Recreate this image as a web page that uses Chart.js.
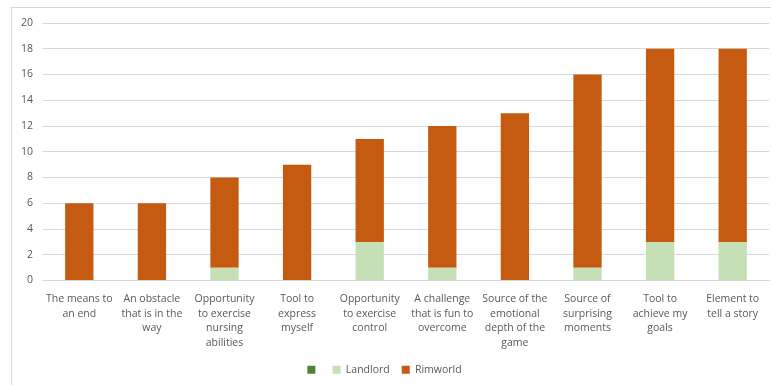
<!DOCTYPE html>
<html>
<head>
<meta charset="utf-8">
<script src="https://cdn.jsdelivr.net/npm/chart.js@4/dist/chart.umd.min.js"></script>
<style>
  body { margin: 0; background: #fff; }
  #wrap { position: relative; width: 771px; height: 385px; overflow: hidden; }
  #frame { position: absolute; left: 11px; top: 7px; width: 800px; height: 400px;
           border-left: 1px solid #d9d9d9; border-top: 1px solid #d9d9d9; }
  canvas { position: absolute; left: 0; top: 0; }
</style>
</head>
<body>
<div id="wrap">
  <div id="frame"></div>
  <canvas id="chart" width="771" height="385"></canvas>
</div>
<script>
const categories = [
  ['The means to', 'an end'],
  ['An obstacle', 'that is in the', 'way'],
  ['Opportunity', 'to exercise', 'nursing', 'abilities'],
  ['Tool to', 'express', 'myself'],
  ['Opportunity', 'to exercise', 'control'],
  ['A challenge', 'that is fun to', 'overcome'],
  ['Source of the', 'emotional', 'depth of the', 'game'],
  ['Source of', 'surprising', 'moments'],
  ['Tool to', 'achieve my', 'goals'],
  ['Element to', 'tell a story']
];
const unnamedSeries = [0, 0, 0, 0, 0, 0, 0, 0, 0, 0];
const landlord = [0, 0, 1, 0, 3, 1, 0, 1, 3, 3];
const rimworld = [6, 6, 7, 9, 8, 11, 13, 15, 15, 15];
const yTicks = [0, 2, 4, 6, 8, 10, 12, 14, 16, 18, 20];

const ctx = document.getElementById('chart').getContext('2d');
const font = { family: '"Open Sans", "Noto Sans", sans-serif', size: 10.5 };
const xFont = { family: '"Open Sans", "Noto Sans", sans-serif', size: 10.5, lineHeight: 1.4 };

new Chart(ctx, {
  type: 'bar',
  data: {
    labels: categories,
    datasets: [
      { label: '', data: unnamedSeries, backgroundColor: '#548235' },
      { label: 'Landlord', data: landlord, backgroundColor: '#c5e0b4' },
      { label: 'Rimworld', data: rimworld, backgroundColor: '#c55a11' }
    ]
  },
  options: {
    responsive: false,
    animation: false,
    layout: { padding: { top: 23, right: 2, bottom: 0, left: 0 } },
    datasets: { bar: { barPercentage: 0.39, categoryPercentage: 1 } },
    plugins: {
      legend: {
        position: 'bottom',
        labels: { boxWidth: 8, boxHeight: 8, color: '#595959', font: font, padding: 12 }
      },
      tooltip: { enabled: false }
    },
    scales: {
      x: {
        stacked: true,
        grid: { display: false },
        border: { color: '#d9d9d9' },
        ticks: { color: '#595959', font: xFont, maxRotation: 0, autoSkip: false, padding: 3 },
        afterFit: s => { s.height = 72; }
      },
      y: {
        stacked: true,
        min: 0,
        max: 20,
        afterBuildTicks: s => { s.ticks = yTicks.map(v => ({ value: v })); },
        grid: { color: '#d9d9d9', drawTicks: false },
        border: { display: false },
        ticks: { color: '#595959', font: font, padding: 10 },
        afterFit: s => { s.width = 43; }
      }
    }
  }
});
</script>
</body>
</html>
